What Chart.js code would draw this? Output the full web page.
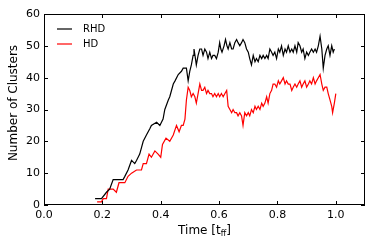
<!DOCTYPE html>
<html>
<head>
<meta charset="utf-8">
<script src="https://cdn.jsdelivr.net/npm/chart.js@4"></script>
<style>
  html, body { margin: 0; padding: 0; background: #fff; }
  #wrap { width: 374px; height: 249px; }
</style>
</head>
<body>
<div id="wrap"><canvas id="chart"></canvas></div>
<script>
// values
const timeRHD = [0.175, 0.197, 0.214, 0.225, 0.237, 0.271, 0.277, 0.288, 0.30, 0.311, 0.317, 0.328, 0.34, 0.351, 0.363, 0.368, 0.386, 0.397, 0.408, 0.414, 0.426, 0.431, 0.443, 0.449, 0.46, 0.471, 0.477,
  0.482, 0.488, 0.494, 0.4995, 0.505, 0.511, 0.514, 0.519, 0.522, 0.528, 0.534, 0.540, 0.545, 0.551, 0.557, 0.562, 0.568, 0.574, 0.579, 0.585, 0.591, 0.597,
  0.602, 0.606, 0.610, 0.617, 0.622, 0.627, 0.631, 0.637, 0.643, 0.648, 0.654, 0.660, 0.665, 0.671, 0.677, 0.682, 0.688, 0.694, 0.700, 0.705, 0.711, 0.717,
  0.723, 0.728, 0.734, 0.740, 0.746, 0.751, 0.757, 0.763, 0.768, 0.774, 0.780, 0.785, 0.791, 0.797, 0.803, 0.808, 0.814, 0.820, 0.826, 0.831, 0.837, 0.843,
  0.849, 0.854, 0.860, 0.866, 0.871, 0.877, 0.883, 0.888, 0.894, 0.900, 0.906, 0.911, 0.917, 0.923, 0.929, 0.934, 0.940, 0.946, 0.952, 0.957, 0.963, 0.969,
  0.974, 0.980, 0.986, 0.991, 0.995];
const countRHD = [2, 2, 4, 5, 8, 8, 9, 11, 14, 13, 14, 16, 20, 22, 24, 25, 26, 25, 27, 30, 33, 34, 38, 39, 41, 42, 43,
  43, 43, 39, 42, 44, 47, 49, 46, 44, 47, 49, 49, 47, 49, 48, 46, 48, 46, 47, 47, 46, 48,
  51, 49, 48, 50, 52, 50, 49, 51, 49, 49, 51, 52, 51, 50, 51, 52, 51, 49, 48, 46, 44, 47,
  45, 46, 45, 47, 46, 47, 46, 47, 46, 49, 48, 47, 48, 46, 49, 48, 50, 47, 49, 48, 50, 48,
  49, 48, 50, 48, 51, 50, 48, 49, 46, 48, 47, 48, 49, 48, 49, 48, 50, 53, 49, 43, 47, 49,
  50, 47, 50, 48, 49];

const timeHD = [0.182, 0.197, 0.203, 0.214, 0.22, 0.237, 0.248, 0.257, 0.277, 0.288, 0.30, 0.317, 0.334, 0.34, 0.351, 0.36, 0.368, 0.38, 0.391, 0.40, 0.406, 0.418, 0.431, 0.443, 0.454, 0.463, 0.471, 0.477,
  0.483, 0.488, 0.494, 0.4995, 0.505, 0.511, 0.517, 0.522, 0.528, 0.534, 0.540, 0.545, 0.551, 0.557, 0.562, 0.568, 0.574, 0.579, 0.585, 0.591, 0.597, 0.602,
  0.608, 0.614, 0.620, 0.626, 0.631, 0.637, 0.643, 0.648, 0.654, 0.660, 0.665, 0.671, 0.677, 0.682, 0.688, 0.694, 0.700, 0.705, 0.711, 0.717, 0.723, 0.728,
  0.734, 0.740, 0.746, 0.751, 0.757, 0.763, 0.768, 0.774, 0.780, 0.785, 0.791, 0.797, 0.803, 0.808, 0.814, 0.820, 0.826, 0.831, 0.837, 0.843, 0.849, 0.854,
  0.860, 0.866, 0.871, 0.877, 0.883, 0.888, 0.894, 0.900, 0.906, 0.911, 0.917, 0.923, 0.929, 0.934, 0.940, 0.946, 0.952, 0.957, 0.963, 0.969, 0.974, 0.980,
  0.986, 0.989, 0.995, 1.0];
const countHD = [1, 1, 2, 2, 5, 5, 4, 7, 7, 9, 10, 11, 11, 13, 13, 16, 15, 17, 16, 15, 19, 21, 20, 22, 25, 23, 25, 25,
  27, 33, 37, 36, 34, 35, 34, 32, 35, 38, 36, 36, 37, 35, 36, 35, 35, 34, 35, 34, 35, 34,
  35, 34, 35, 36, 31, 30, 29, 30, 29, 29, 28, 29, 28, 25, 29, 28, 29, 28, 30, 29, 31, 30,
  31, 30, 32, 31, 32, 34, 32, 35, 36, 38, 38, 37, 39, 38, 39, 40, 38, 39, 38, 38, 36, 37,
  38, 37, 38, 39, 37, 38, 39, 37, 38, 39, 38, 40, 38, 39, 40, 41, 38, 36, 37, 37, 35, 33,
  31, 29, 32, 35];

const xTicks = [0.0, 0.2, 0.4, 0.6, 0.8, 1.0];
const yTicks = [0, 10, 20, 30, 40, 50, 60];
const seriesNames = ['RHD', 'HD'];
const seriesColors = ['#000000', '#ff0000'];

const font = 'DejaVu Sans';

function toPoints(ts, vs) {
  return ts.map((t, i) => ({ x: t, y: vs[i] }));
}

// frame, inward ticks, legend, axis titles
const decor = {
  id: 'decor',
  afterDraw(chart) {
    const ctx = chart.ctx;
    const a = chart.chartArea;
    const xs = chart.scales.x, ys = chart.scales.y;
    ctx.save();
    ctx.strokeStyle = '#000';
    ctx.lineWidth = 1;
    ctx.strokeRect(a.left + 0.5, a.top + 0.5, a.right - a.left - 1, a.bottom - a.top - 1);
    ctx.beginPath();
    xTicks.forEach(v => {
      const px = Math.round(xs.getPixelForValue(v)) + 0.5;
      ctx.moveTo(px, a.bottom); ctx.lineTo(px, a.bottom - 4);
      ctx.moveTo(px, a.top); ctx.lineTo(px, a.top + 4);
    });
    yTicks.forEach(v => {
      const py = Math.round(ys.getPixelForValue(v)) + 0.5;
      ctx.moveTo(a.left, py); ctx.lineTo(a.left + 4, py);
      ctx.moveTo(a.right, py); ctx.lineTo(a.right - 4, py);
    });
    ctx.stroke();

    // legend
    ctx.font = '10px "' + font + '"';
    ctx.textBaseline = 'middle';
    ctx.fillStyle = '#000';
    seriesNames.forEach((n, i) => {
      const y = 29 + i * 15;
      ctx.strokeStyle = seriesColors[i];
      ctx.lineWidth = 1.2;
      ctx.beginPath();
      ctx.moveTo(57, y); ctx.lineTo(72, y);
      ctx.stroke();
      ctx.fillText(n, 83, y);
    });

    // y title
    ctx.save();
    ctx.translate(14, 103);
    ctx.rotate(-Math.PI / 2);
    ctx.font = '12px "' + font + '"';
    ctx.textAlign = 'center';
    ctx.textBaseline = 'middle';
    ctx.fillText('Number of Clusters', 0, 0);
    ctx.restore();

    // x title with subscript
    const cx = (a.left + a.right) / 2;
    const main = 'Time [t';
    const sub = 'ff';
    const end = ']';
    ctx.font = '12px "' + font + '"';
    const w1 = ctx.measureText(main).width;
    const w3 = ctx.measureText(end).width;
    ctx.font = '8px "' + font + '"';
    const w2 = ctx.measureText(sub).width;
    let x0 = cx - (w1 + w2 + w3) / 2;
    const yb = 234;
    ctx.textAlign = 'left';
    ctx.textBaseline = 'alphabetic';
    ctx.font = '12px "' + font + '"';
    ctx.fillText(main, x0, yb);
    ctx.font = '8px "' + font + '"';
    ctx.fillText(sub, x0 + w1, yb + 2);
    ctx.font = '12px "' + font + '"';
    ctx.fillText(end, x0 + w1 + w2, yb);
    ctx.restore();
  }
};

new Chart(document.getElementById('chart'), {
  type: 'line',
  data: {
    datasets: [
      { label: seriesNames[0], data: toPoints(timeRHD, countRHD), borderColor: seriesColors[0] },
      { label: seriesNames[1], data: toPoints(timeHD, countHD), borderColor: seriesColors[1] }
    ]
  },
  options: {
    responsive: true,
    maintainAspectRatio: false,
    animation: false,
    events: [],
    layout: { padding: { top: 14, right: 9, left: 0, bottom: 0 } },
    elements: {
      line: { borderWidth: 1.2, tension: 0, fill: false },
      point: { radius: 0 }
    },
    plugins: { legend: { display: false }, tooltip: { enabled: false } },
    scales: {
      x: {
        type: 'linear',
        min: 0, max: 1.1,
        afterBuildTicks: s => { s.ticks = xTicks.map(v => ({ value: v })); },
        afterFit: s => { s.height = 44; },
        grid: { display: false, drawTicks: false },
        border: { display: false },
        ticks: {
          padding: 4,
          color: '#000',
          font: { family: font, size: 11 },
          callback: v => v.toFixed(1)
        }
      },
      y: {
        type: 'linear',
        min: 0, max: 60,
        afterBuildTicks: s => { s.ticks = yTicks.map(v => ({ value: v })); },
        afterFit: s => { s.width = 44; },
        grid: { display: false, drawTicks: false },
        border: { display: false },
        ticks: {
          padding: 4,
          color: '#000',
          font: { family: font, size: 11 }
        }
      }
    }
  },
  plugins: [decor]
});
</script>
</body>
</html>
